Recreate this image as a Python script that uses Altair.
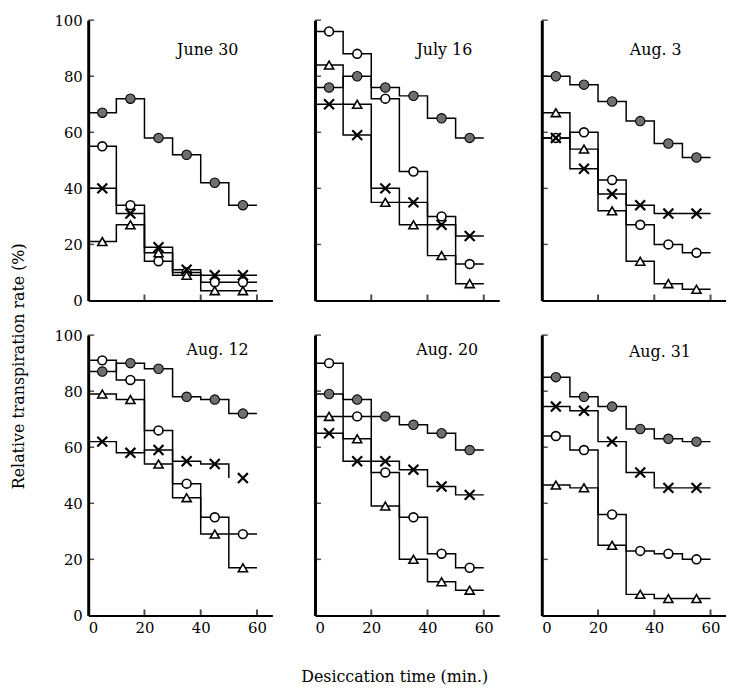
import altair as alt
import pandas as pd

# ---------------- data ----------------
panels = ["June 30", "July 16", "Aug. 3", "Aug. 12", "Aug. 20", "Aug. 31"]
minutes = [5, 15, 25, 35, 45, 55]          # marker positions (interval mid-points)
bin_edges = [0, 10, 20, 30, 40, 50, 60]    # step boundaries (desiccation time, min)

filled_circle = [
    [67, 72, 58, 52, 42, 34],
    [76, 80, 76, 73, 65, 58],
    [80, 77, 71, 64, 56, 51],
    [87, 90, 88, 78, 77, 72],
    [79, 77, 71, 68, 65, 59],
    [85, 78, 74.5, 66.5, 63, 62],
]
open_circle = [
    [55, 34, 14, 10, 6.5, 6.5],
    [96, 88, 72, 46, 30, 13],
    [58, 60, 43, 27, 20, 17],
    [91, 84, 66, 47, 35, 29],
    [90, 71, 51, 35, 22, 17],
    [64, 59, 36, 23, 22, 20],
]
triangle = [
    [21, 27, 17, 9, 3.5, 3.5],
    [84, 70, 35, 27, 16, 6],
    [67, 54, 32, 14, 6, 4],
    [79, 77, 54, 42, 29, 17],
    [71, 63, 39, 20, 12, 9],
    [46.5, 45.5, 25, 7.5, 6, 6],
]
cross = [
    [40, 31, 19, 11, 9, 9],
    [70, 59, 40, 35, 27, 23],
    [58, 47, 38, 34, 31, 31],
    [62, 58, 59, 55, 54, 49],
    [65, 55, 55, 52, 46, 43],
    [74.5, 73, 62, 51, 45.5, 45.5],
]
# time (min) at which each drawn step line ends (Aug. 12 "x" line stops at 50)
cross_line_end = [60, 60, 60, 50, 60, 60]

y_tick_values = [20, 40, 60, 80, 100]
x_tick_values = [20, 40, 60]
x_label_values = [0, 20, 40, 60]
y_label_values = [0, 20, 40, 60, 80, 100]

# ---------------- style ----------------
W, H = 186, 283
XMAX = 65.5
FONT = "DejaVu Serif"
label_pos_min = [42.5, 46, 40.5, 46, 47, 42]      # panel label centre (minutes)
label_pos_pct = [89.4, 89.4, 89.4, 94.5, 94.5, 94.0]

xscale = alt.Scale(domain=[0, XMAX], nice=False, zero=False)
yscale = alt.Scale(domain=[0, 100], nice=False)

series = [
    ("filled", filled_circle),
    ("open", open_circle),
    ("tri", triangle),
    ("cross", cross),
]
marker_style = {
    "filled": dict(shape="circle", filled=True, fill="#6f6f6f", stroke="black",
                   strokeWidth=1.1, size=90, opacity=1),
    "open": dict(shape="circle", filled=True, fill="white", stroke="black",
                 strokeWidth=1.6, size=80, opacity=1),
    "tri": dict(shape="triangle-up", filled=True, fill="white", stroke="black",
                strokeWidth=1.6, size=85, opacity=1),
    "cross": dict(shape="M-1,-1L1,1M-1,1L1,-1", filled=False, stroke="black",
                  strokeWidth=2.2, size=100, opacity=1),
}


def make_panel(i):
    row, col = divmod(i, 3)
    line_rows, pt_rows = [], []
    for name, vals in series:
        v = vals[i]
        end = cross_line_end[i] if name == "cross" else 60
        for t, val in zip(bin_edges, v + [v[-1]]):
            if t <= end:
                line_rows.append({"s": name, "t": t, "v": val})
        for t, val in zip(minutes, v):
            pt_rows.append({"s": name, "t": t, "v": val})
    line_df = pd.DataFrame(line_rows)
    pt_df = pd.DataFrame(pt_rows)

    xa = dict(labels=(row == 1), ticks=False, grid=False, domain=True,
              domainColor="black", domainWidth=2, values=x_label_values,
              labelFont=FONT, labelFontSize=15, labelColor="black",
              labelPadding=5, title=None)
    if row == 1 and col == 1:
        xa.update(title="Desiccation time (min.)", titleFont=FONT,
                  titleFontSize=16, titleFontWeight="normal", titleColor="black",
                  titleX=(395 - 315), titleY=62, titleBaseline="middle",
                  titleAlign="center")
    ya = dict(labels=(col == 0), ticks=False, grid=False, domain=True,
              domainColor="black", domainWidth=3, values=y_label_values,
              labelFont=FONT, labelFontSize=15, labelColor="black",
              labelPadding=6, title=None)
    if row == 1 and col == 0:
        ya.update(title="Relative transpiration rate (%)", titleFont=FONT,
                  titleFontSize=16, titleFontWeight="normal", titleColor="black",
                  titleX=-70, titleY=31, titleAngle=270, titleAlign="center",
                  titleBaseline="middle")
    xaxis = alt.Axis(**xa)
    yaxis = alt.Axis(**ya)
    X = lambda: alt.X("t:Q", scale=xscale, axis=xaxis)
    Y = lambda: alt.Y("v:Q", scale=yscale, axis=yaxis)

    layers = []
    layers.append(
        alt.Chart(line_df).mark_line(interpolate="step-after", color="black",
                                     strokeWidth=1.5)
        .encode(x=X(), y=Y(), detail="s:N")
    )
    for name, _ in series:
        layers.append(
            alt.Chart(pt_df[pt_df.s == name]).mark_point(**marker_style[name])
            .encode(x=X(), y=Y())
        )
    # inward ticks
    layers.append(
        alt.Chart(pd.DataFrame({"v": y_tick_values}))
        .mark_tick(orient="horizontal", color="black", thickness=1.5, size=6)
        .encode(y=Y(), x=alt.value(3))
    )
    layers.append(
        alt.Chart(pd.DataFrame({"t": x_tick_values}))
        .mark_tick(orient="vertical", color="black", thickness=2, size=6)
        .encode(x=X(), y=alt.value(H - 3))
    )
    layers.append(
        alt.Chart(pd.DataFrame({"label": [panels[i]]}))
        .mark_text(font=FONT, fontSize=16, fontWeight="normal", align="center",
                   baseline="middle", color="black")
        .encode(text="label:N",
                x=alt.value(label_pos_min[i] * W / XMAX),
                y=alt.value(H * (1 - label_pos_pct[i] / 100)))
    )
    return alt.layer(*layers).properties(width=W, height=H)


chart = (
    alt.concat(*[make_panel(i) for i in range(6)], columns=3,
               spacing={"row": 35, "column": 43}, bounds="flush")
    .properties(padding={"left": 2, "top": 2, "right": 0, "bottom": 0},
                background="white")
    .configure_view(stroke=None)
)

chart.save("out.html", embed_options={"renderer": "svg", "actions": False})
